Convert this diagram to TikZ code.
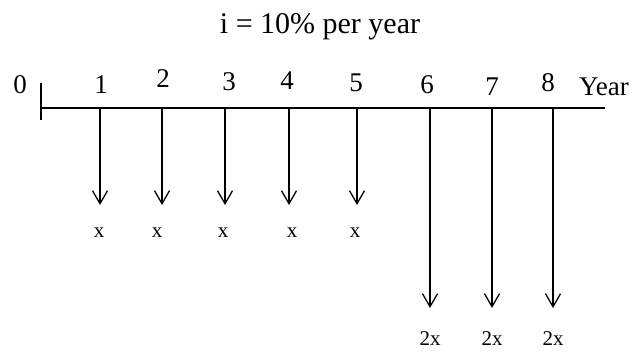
\documentclass[tikz,border=0pt]{standalone}
\usepackage{fontspec}
\setmainfont{Liberation Serif}
\usetikzlibrary{arrows.meta}

\begin{document}
\begin{tikzpicture}[x=1pt, y=-1pt, every node/.style={inner sep=0pt},
	flow/.style={line width=1.3pt, -{Straight Barb[length=13pt, width=15pt, line width=1.3pt]}},
	yearlab/.style={font=\fontsize{27}{30}\selectfont},
	cashlab/.style={font=\fontsize{21}{23}\selectfont}]
	\useasboundingbox (0,0) rectangle (638,352);
	\node[font=\fontsize{30}{34}\selectfont] (rate) at (320,27) {i = 10\% per year};
	% time axis
	\coordinate (start) at (41,108);
	\coordinate (stop) at (605,108);
	\coordinate (tickup) at (41,83);
	\coordinate (tickdown) at (41,120);
	\draw[line width=1.8pt] (start) -- (stop);
	\draw[line width=1.5pt] (tickup) -- (tickdown);
	\node[yearlab] (y0) at (20,85) {0};
	\foreach \n/\x/\ly in {1/101/85, 2/163/79, 3/229/82, 4/287/81, 5/356/83, 6/427/85, 7/492/87, 8/548/83} {
		\node[yearlab] (y\n) at (\x,\ly) {\n};
	}
	\node[yearlab] (unit) at (604,87) {Year};
	% payments x in years 1 to 5
	\foreach \n/\x/\lx in {1/100/99, 2/162/157, 3/225/223, 4/289/292, 5/357/355} {
		\coordinate (t\n) at (\x,108);
		\coordinate (h\n) at (\x,205);
		\draw[flow] (t\n) -- (h\n);
		\node[cashlab] (c\n) at (\lx,233) {x};
	}
	% payments 2x in years 6 to 8
	\foreach \n/\x in {6/430, 7/492, 8/553} {
		\coordinate (t\n) at (\x,108);
		\coordinate (h\n) at (\x,308);
		\draw[flow] (t\n) -- (h\n);
		\node[cashlab] (c\n) at (\x,339) {2x};
	}
\end{tikzpicture}
\end{document}
